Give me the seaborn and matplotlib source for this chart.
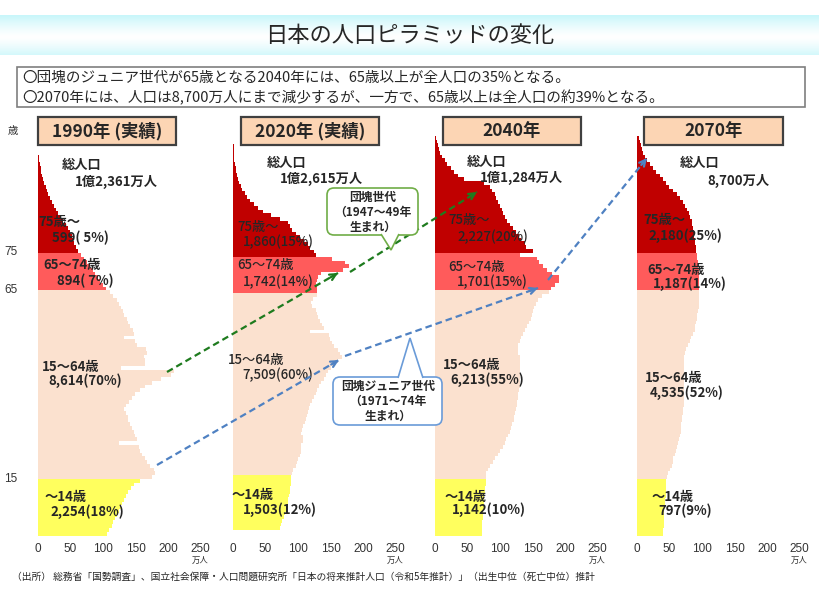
import numpy as np
import pandas as pd
import matplotlib
matplotlib.use('Agg')
import matplotlib.pyplot as plt
import seaborn as sns
from matplotlib.patches import Rectangle, FancyBboxPatch, Polygon

sns.set_style('white')
plt.rcParams['font.family'] = ['Noto Sans CJK JP', 'DejaVu Sans']

# ---- data (万人, by single year of age) ----
pop_1990 = [106, 110, 114, 116, 119, 121, 124, 127, 129, 133,
            135, 139, 143, 147, 157, 176, 180, 178, 173, 168,
            164, 160, 157, 155, 124, 152, 149, 147, 145, 142,
            139, 138, 136, 133, 135, 140, 144, 149, 157, 165,
            175, 190, 204, 210, 127, 165, 165, 163, 167, 166,
            152, 150, 132, 147, 146, 142, 139, 137, 133, 131,
            128, 125, 122, 116, 111, 105, 100, 96, 92, 88,
            84, 80, 76, 71, 66, 61, 59, 56, 54, 52,
            49, 46, 43, 39, 35, 31, 27, 24, 21, 18,
            16, 14, 12, 10, 8, 6, 5, 4, 3, 2,
            1]
pop_2020 = [72, 74, 76, 78, 80, 81, 82, 84, 85, 86,
            87, 88, 89, 89, 90, 91, 93, 97, 99, 100,
            103, 105, 105, 105, 107, 108, 105, 106, 108, 111,
            113, 114, 115, 117, 119, 122, 124, 127, 129, 132,
            136, 140, 143, 146, 151, 156, 162, 167, 165, 161,
            156, 153, 150, 147, 118, 140, 137, 134, 131, 130,
            128, 122, 120, 123, 130, 130, 130, 128, 129, 131,
            135, 170, 178, 172, 152, 128, 125, 118, 115, 110,
            103, 97, 91, 87, 84, 72, 58, 46, 38, 32,
            26, 22, 18, 14, 12, 10, 8, 6, 5, 4,
            3, 2, 2, 1, 1, 1]
pop_2040 = [72, 72, 73, 73, 74, 74, 74, 75, 75, 76,
            76, 77, 77, 78, 78, 79, 79, 82, 85, 89,
            92, 97, 100, 104, 107, 110, 113, 115, 117, 119,
            121, 122, 123, 125, 126, 126, 127, 128, 129, 130,
            131, 131, 131, 131, 131, 131, 131, 130, 128, 128,
            128, 130, 132, 135, 138, 141, 144, 147, 149, 151,
            153, 155, 158, 165, 175, 178, 185, 190, 190, 180,
            172, 166, 160, 157, 130, 151, 140, 138, 132, 129,
            125, 120, 115, 111, 108, 105, 103, 100, 97, 94,
            92, 88, 84, 75, 45, 36, 30, 24, 18, 15,
            11, 8, 6, 4, 3, 2]
pop_2070 = [40, 40, 41, 41, 42, 42, 42, 43, 43, 43,
            44, 44, 44, 45, 45, 46, 48, 51, 54, 55,
            56, 58, 60, 62, 63, 64, 66, 67, 68, 68,
            69, 70, 71, 71, 72, 72, 72, 72, 72, 73,
            73, 73, 73, 73, 73, 73, 73, 73, 74, 76,
            79, 81, 83, 86, 89, 90, 91, 92, 93, 94,
            95, 95, 96, 96, 96, 96, 96, 96, 95, 95,
            95, 94, 94, 93, 92, 91, 91, 90, 89, 88,
            87, 86, 85, 84, 82, 80, 77, 74, 71, 66,
            62, 56, 50, 45, 40, 35, 30, 25, 20, 16,
            13, 10, 8, 6, 4, 3]

panel_pops = [pop_1990, pop_2020, pop_2040, pop_2070]
panel_titles = ['1990年 (実績)', '2020年 (実績)', '2040年', '2070年']
totals = ['1億2,361万人', '1億2,615万人', '1億1,284万人', '8,700万人']
old75 = ['599( 5%)', '1,860(15%)', '2,227(20%)', '2,180(25%)']
old65 = ['894( 7%)', '1,742(14%)', '1,701(15%)', '1,187(14%)']
work = ['8,614(70%)', '7,509(60%)', '6,213(55%)', '4,535(52%)']
young = ['2,254(18%)', '1,503(12%)', '1,142(10%)', '797(9%)']

group_names = ['～14歳', '15～64歳', '65～74歳', '75歳～']
group_colors = ['#FFFF5E', '#FBE1CF', '#FF5B5B', '#C00000']
xticks = [0, 50, 100, 150, 200, 250]

# ---- layout (pixels of the 820x600 canvas) ----
W, H = 820, 600
PX_PER_UNIT = 0.65
XMAX = 262
AGE_TOP = 106.5
origins = [38, 233, 435, 637]
bottoms = [535.5, 530, 535.5, 535.5]
px_per_age = [3.77, 3.64, 3.77, 3.77]
header_x = [(38, 176), (241, 379), (443, 581), (644, 783)]

fig = plt.figure(figsize=(W / 100, H / 100), dpi=100)


def age_group(a):
    if a < 15:
        return group_names[0]
    if a < 65:
        return group_names[1]
    if a < 75:
        return group_names[2]
    return group_names[3]


for i, pop in enumerate(panel_pops):
    df = pd.DataFrame({'age': np.arange(len(pop)), 'pop': pop})
    df['group'] = df['age'].map(age_group)

    wpx = XMAX * PX_PER_UNIT
    hpx = (AGE_TOP + 0.5) * px_per_age[i]
    ax = fig.add_axes([origins[i] / W, 1 - bottoms[i] / H, wpx / W, hpx / H])
    ax.patch.set_alpha(0)
    sns.barplot(data=df, x='pop', y='age', hue='group', hue_order=group_names,
                palette=group_colors, orient='h', native_scale=True, dodge=False,
                width=1, errorbar=None, legend=False, saturation=1,
                linewidth=0, antialiased=False, ax=ax)
    ax.set_xlim(0, XMAX)
    ax.set_ylim(-0.5, AGE_TOP)
    ax.set_xticks(xticks)
    ax.set_xticklabels([str(t) for t in xticks], fontsize=8.5, color='#333333',
                       family=['Liberation Sans', 'DejaVu Sans'])
    pad_px = 543 - bottoms[i]
    ax.tick_params(axis='x', length=0, pad=pad_px * 0.72)
    if i == 0:
        ax.set_yticks([15, 65, 75])
        ax.set_yticklabels(['15', '65', '75'], fontsize=8.5, color='#333333',
                           family=['Liberation Sans', 'DejaVu Sans'])
        ax.tick_params(axis='y', length=0, pad=15)
    else:
        ax.set_yticks([])
    ax.set_xlabel('')
    ax.set_ylabel('')
    sns.despine(ax=ax, left=True, bottom=True)

# ---- overlay for titles, notes and arrows ----
ov = fig.add_axes([0, 0, 1, 1], zorder=10)
ov.axis('off')

# title band gradient
t = np.linspace(0, 1, 40)
w = np.clip(np.abs(t - 0.55) / 0.55, 0, 1) ** 1.3
cyan = np.array([200, 246, 250]) / 255
band = (1 - w[:, None]) * np.ones(3) + w[:, None] * cyan
band = np.repeat(band[:, None, :], 10, axis=1)
ov.imshow(band, extent=[0, W, 55, 15], aspect='auto', zorder=0)
ov.text(410, 35, '日本の人口ピラミッドの変化', ha='center', va='center', fontsize=16)

ov.add_patch(Rectangle((17, 67), 788, 40, fill=False, edgecolor='#7F7F7F', lw=1.2))
ov.text(22, 78, '〇団塊のジュニア世代が65歳となる2040年には、65歳以上が全人口の35%となる。',
        va='center', fontsize=10.5)
ov.text(22, 98, '〇2070年には、人口は8,700万人にまで減少するが、一方で、65歳以上は全人口の約39%となる。',
        va='center', fontsize=10.5)

for (x0, x1), title in zip(header_x, panel_titles):
    ov.add_patch(Rectangle((x0, 117), x1 - x0, 28, facecolor='#FCD5B4',
                           edgecolor='#404040', lw=1.6))
    ov.text((x0 + x1) / 2, 131.5, title, ha='center', va='center',
            fontsize=12.5, fontweight='bold')

# panel labels
label_pos = [
    [(62, 165), (75, 182), (38, 222), (52, 238), (43, 265), (57, 281),
     (42, 367), (48, 381), (45, 497), (50, 512)],
    [(267, 163), (280, 179), (237, 227), (243, 242), (237, 265), (243, 282),
     (228, 360), (242, 375), (232, 495), (243, 510)],
    [(467, 162), (480, 178), (448, 220), (457, 237), (448, 267), (457, 282),
     (443, 365), (450, 380), (445, 497), (452, 510)],
    [(680, 163), (707, 181), (643, 220), (648, 236), (647, 270), (653, 284),
     (645, 378), (650, 393), (652, 497), (658, 511)],
]
label_weights = [
    ['bold'] * 10,
    ['bold', 'bold', 'medium', 'medium', 'medium', 'medium', 'medium', 'medium', 'bold', 'bold'],
    ['bold', 'bold', 'medium', 'medium', 'medium', 'medium', 'bold', 'bold', 'bold', 'bold'],
    ['bold'] * 10,
]
for i in range(4):
    texts = ['総人口', totals[i], group_names[3], old75[i], group_names[2], old65[i],
             group_names[1], work[i], group_names[0], young[i]]
    for (x, y), s, fw in zip(label_pos[i], texts, label_weights[i]):
        ov.text(x, y, s, va='center', ha='left', fontsize=9.5, fontweight=fw)

# axis unit labels
ov.text(8, 131, '歳', va='center', fontsize=7.5, color='#333333')
for ox in origins:
    ov.text(ox + 250 * PX_PER_UNIT, 560, '万人', ha='center', va='center',
            fontsize=6, color='#333333')


def dashed_arrow(p0, p1, color):
    ov.plot([p0[0], p1[0]], [p0[1], p1[1]], color=color, lw=1.6,
            ls=(0, (3, 1.8)), solid_capstyle='butt', zorder=3)
    d = np.array(p1, float) - np.array(p0, float)
    d /= np.hypot(*d)
    ov.annotate('', xy=p1, xytext=tuple(np.array(p1) - 9 * d),
                arrowprops=dict(arrowstyle='->', color=color, lw=1.6,
                                mutation_scale=11, shrinkA=0, shrinkB=0), zorder=4)


green = '#1E7B1E'
blue = '#4F81C2'
dashed_arrow((167, 372), (338, 273), green)
dashed_arrow((350, 272), (477, 192), green)
dashed_arrow((157, 465), (339, 360), blue)
dashed_arrow((345, 356), (538, 288), blue)
dashed_arrow((548, 280), (647, 158), blue)


def callout(x0, y0, w, h, tail, color, lines, cx):
    ov.add_patch(FancyBboxPatch((x0, y0), w, h, boxstyle='round,pad=0,rounding_size=7',
                                facecolor='white', edgecolor=color, lw=1.2, zorder=5))
    ov.add_patch(Polygon(tail, closed=False, facecolor='white', edgecolor=color,
                         lw=1.2, zorder=6))
    for k, s in enumerate(lines):
        ov.text(cx, y0 + 9.5 + 15 * k, s, ha='center', va='center', fontsize=8.5,
                fontweight='bold', zorder=7)


callout(327, 188, 91, 47, [(381, 234), (391, 250), (399, 234)], '#70AD47',
        ['団塊世代', '（1947～49年', '生まれ）'], 373)
callout(333, 377, 109, 48, [(398, 378), (410, 338), (423, 378)], '#6A9BD8',
        ['団塊ジュニア世代', '（1971～74年', '生まれ）'], 388)

ov.text(12, 577, '（出所） 総務省「国勢調査」、国立社会保障・人口問題研究所「日本の将来推計人口（令和5年推計）」'
        '（出生中位（死亡中位）推計', va='center', fontsize=7)

ov.set_xlim(0, W)
ov.set_ylim(H, 0)

fig.savefig('out.png', dpi=100)
